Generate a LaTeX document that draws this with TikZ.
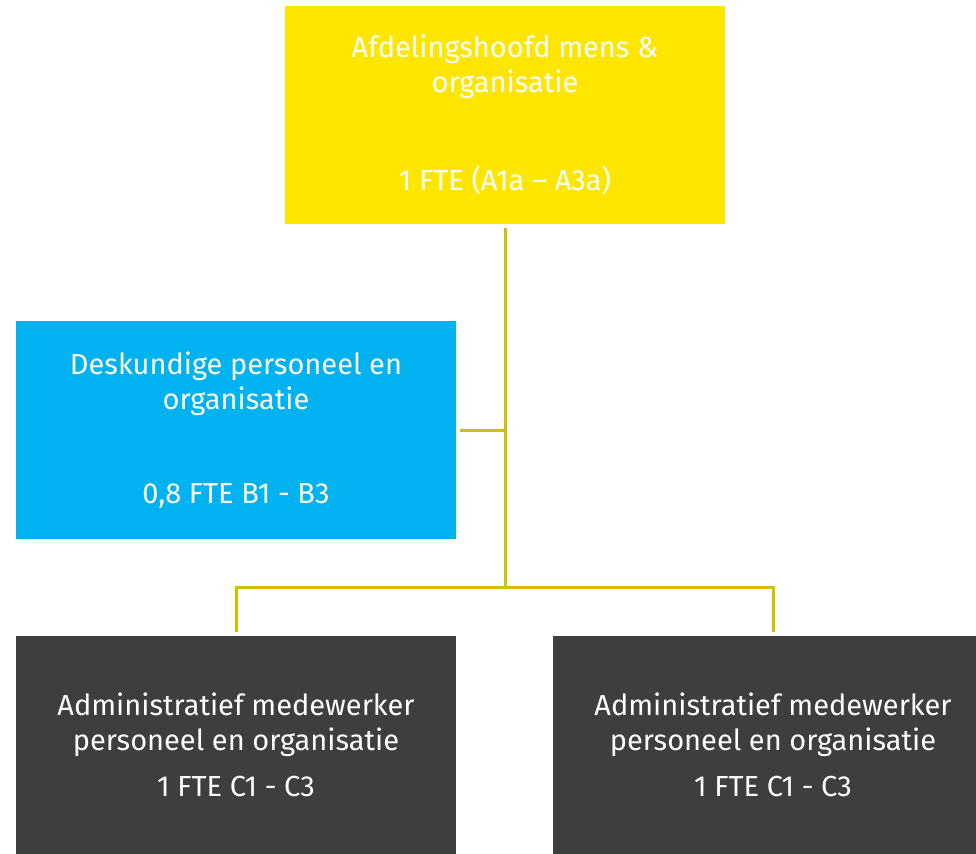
\documentclass[tikz,border=0pt]{standalone}
\usepackage{fontspec}
\setmainfont{Fira Sans}
\usepackage{xcolor}
\usetikzlibrary{positioning, calc}

\definecolor{headyellow}{HTML}{FFE600}
\definecolor{expertblue}{HTML}{00B2EF}
\definecolor{admingrey}{HTML}{3E3E3E}
\definecolor{linegold}{HTML}{CFC000}

\begin{document}
\begin{tikzpicture}[
    x=0.5pt, y=-0.5pt,
    every node/.style={font=\fontsize{14.5}{17.5}\selectfont, text=white, align=center},
    orgbox/.style={minimum width=220pt, minimum height=109pt, inner sep=0pt},
    orgline/.style={line width=1.5pt, draw=linegold}
]

% Frame
\useasboundingbox (0,0) rectangle (976,853);
\clip (0,0) rectangle (976,853);

% Boxes
\node[orgbox, fill=headyellow] (head) at (505,115)
    {Afdelingshoofd mens \&\\organisatie\\[31.5pt]1 FTE (A1a -- A3a)};
\node[orgbox, fill=expertblue] (expert) at (236,430)
    {Deskundige personeel en\\organisatie\\[29.5pt]0,8 FTE B1 - B3};
\node[orgbox, fill=admingrey] (admin1) at (236,745)
    {Administratief medewerker\\personeel en organisatie\\[5.5pt]1 FTE C1 - C3};
\node[orgbox, fill=admingrey] (admin2) at (773,745)
    {Administratief medewerker\\personeel en organisatie\\[5.5pt]1 FTE C1 - C3};

% Connectors
\coordinate (side) at (505,430);
\coordinate (split) at (505,587);
\draw[orgline] ([yshift=-2pt]head.south) -- (split);
\draw[orgline] ([xshift=2pt]expert.east) -- (side);
\draw[orgline] (split) -| ([yshift=2pt]admin1.north);
\draw[orgline] (split) -| ([yshift=2pt]admin2.north);

\end{tikzpicture}
\end{document}
